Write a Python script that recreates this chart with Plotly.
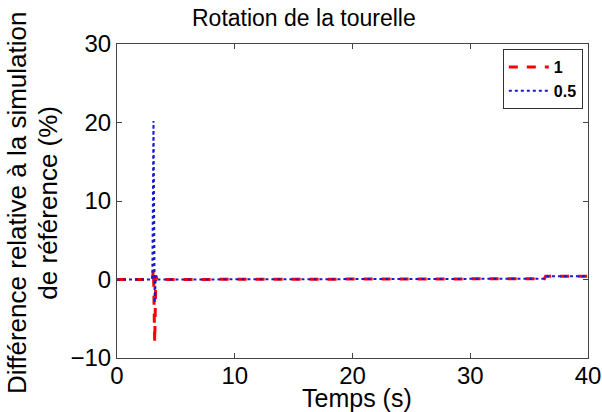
import plotly.graph_objects as go

# Data
time_s = [0, 3.0, 3.1, 3.2, 3.3, 3.4, 36.3, 36.4, 40]
diff_1 = [0.0, 0.0, 1.3, -8.0, 0.5, 0.0, 0.1, 0.4, 0.4]
diff_05 = [0.0, 0.0, 20.2, -3.0, 0.5, 0.0, 0.1, 0.4, 0.4]
x_ticks = [0, 10, 20, 30, 40]
y_ticks = [-10, 0, 10, 20, 30]

fig = go.Figure()
fig.add_trace(go.Scatter(x=time_s, y=diff_1, mode="lines", name="<b>1</b>",
                         line=dict(color="#ff0000", width=3, dash="dash")))
fig.add_trace(go.Scatter(x=time_s, y=diff_05, mode="lines", name="<b>0.5</b>",
                         line=dict(color="#1a1acc", width=2, dash="dot")))

FONT = "Liberation Sans, Arial"
axis_common = dict(showgrid=False, zeroline=False, ticks="inside", ticklen=5,
                   linecolor="#444444", linewidth=1, mirror="ticks",
                   tickcolor="#444444", automargin=False,
                   tickfont=dict(size=24, color="black", family=FONT))

fig.update_layout(
    width=602, height=412,
    margin=dict(l=117, r=14, t=44, b=54),
    paper_bgcolor="white", plot_bgcolor="white",
    font=dict(family=FONT, color="black"),
    xaxis=dict(range=[0, 40], tickvals=x_ticks, ticklabelstandoff=-4, **axis_common),
    yaxis=dict(range=[-10, 30], tickvals=y_ticks, **axis_common),
    showlegend=True,
    legend=dict(x=0.989, y=0.984, xanchor="right", yanchor="top",
                bordercolor="#333333", borderwidth=1, bgcolor="white",
                font=dict(size=16, color="black", family=FONT),
                tracegroupgap=0, itemwidth=40),
    annotations=[
        dict(text="Rotation de la tourelle", xref="paper", yref="paper",
             x=0.396, y=1.083, xanchor="center", yanchor="middle",
             showarrow=False, font=dict(size=23)),
        dict(text="Temps (s)", xref="paper", yref="paper",
             x=0.51, y=-0.127, xanchor="center", yanchor="middle",
             showarrow=False, font=dict(size=25)),
        dict(text="Différence relative à la simulation",
             xref="paper", yref="paper", x=-0.212, y=0.494,
             xanchor="center", yanchor="middle", textangle=-90,
             showarrow=False, font=dict(size=26)),
        dict(text="de référence (%)",
             xref="paper", yref="paper", x=-0.147, y=0.494,
             xanchor="center", yanchor="middle", textangle=-90,
             showarrow=False, font=dict(size=26)),
    ],
)

fig.write_html("out.html",
               config={"displayModeBar": False},
               post_script="document.body.style.margin='0px';"
                           "document.body.style.overflow='hidden';")
